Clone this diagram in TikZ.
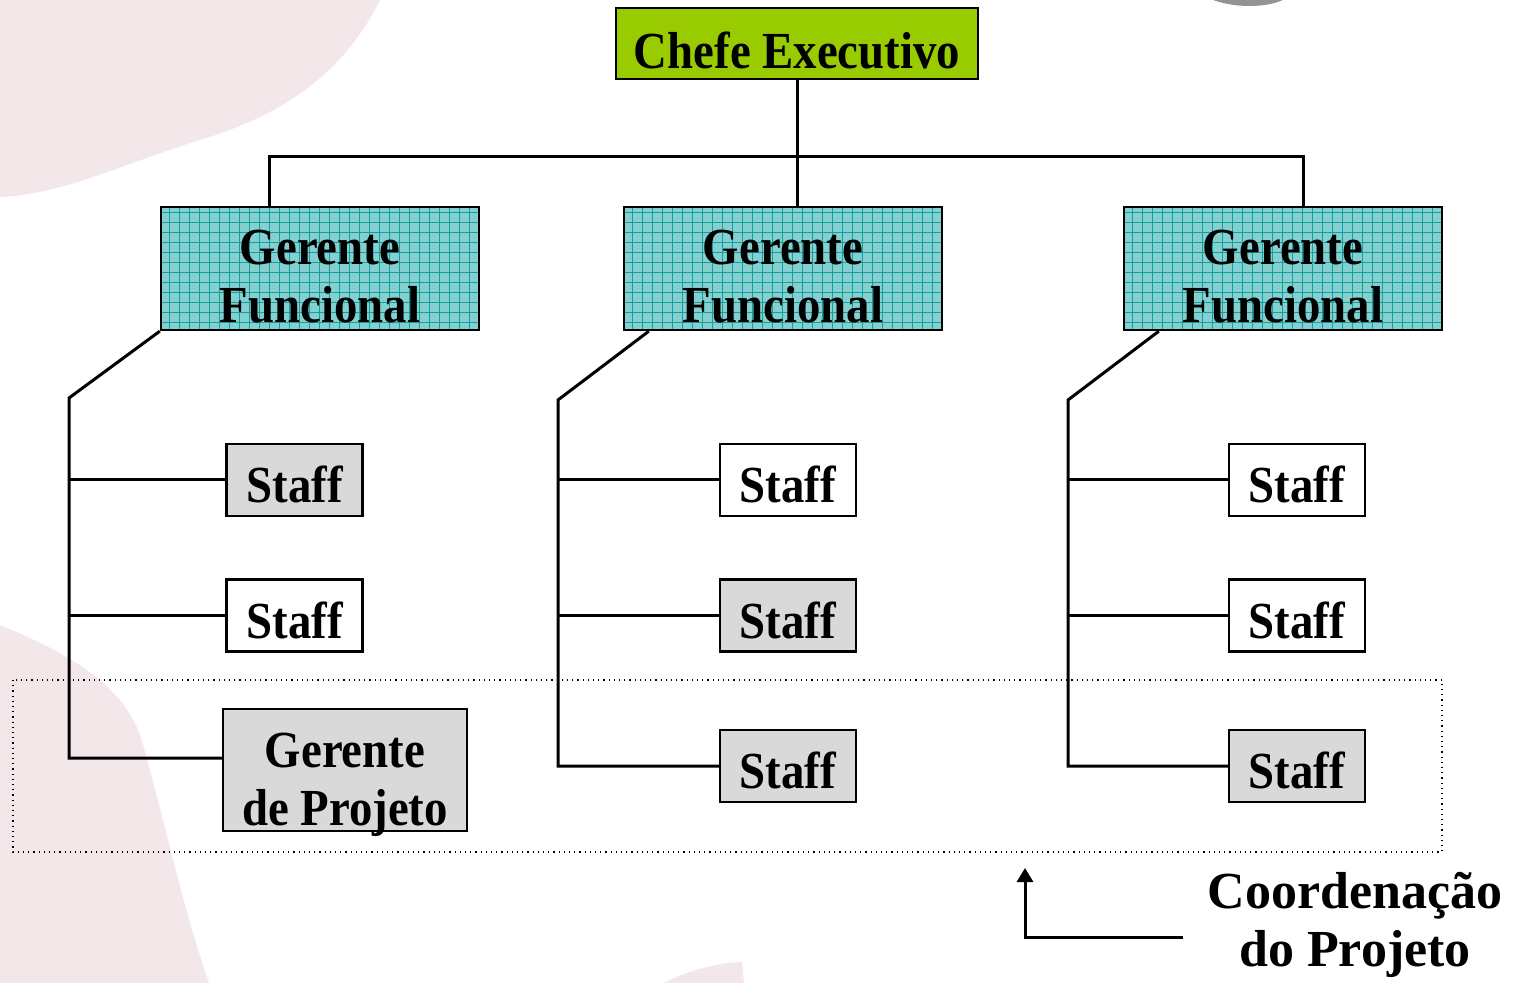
\documentclass[tikz,border=0pt]{standalone}
\usepackage{fontspec}
\setmainfont{Liberation Serif}
\newfontfamily\boxfont{Liberation Serif}[FakeStretch=0.9]
\usetikzlibrary{arrows.meta, calc}

\definecolor{chefegreen}{RGB}{153,204,0}
\definecolor{gerteal}{RGB}{132,208,208}
\definecolor{gridteal}{RGB}{20,158,158}
\definecolor{staffgray}{RGB}{217,217,217}
\definecolor{bgpink}{RGB}{243,231,234}

\begin{document}
\begin{tikzpicture}[x=0.5pt, y=-0.5pt, line width=1.4pt,
    box/.style={draw, line width=1.2pt, inner sep=0pt, align=center,
      font=\boxfont\fontsize{26}{29}\selectfont\bfseries},
    textdrop/.style={execute at begin node={\rule{0pt}{#1}}},
    chefebox/.style={box, textdrop=25pt, fill=chefegreen, minimum width=181pt, minimum height=35.5pt},
    gerbox/.style={box, textdrop=54pt, fill=gerteal, minimum width=159pt, minimum height=61.5pt,
      path picture={\draw[gridteal, line width=0.4pt, step=5pt]
        (path picture bounding box.south west) grid (path picture bounding box.north east);}},
    staffbox/.style={box, textdrop=23pt, fill=white, minimum width=68pt, minimum height=36pt},
    grayfill/.style={fill=staffgray},
    conn/.style={line width=1.5pt}]
    \useasboundingbox (0,0) rectangle (1515,983);
    \fill[white] (0,0) rectangle (1515,983);

    % background shapes
    \fill[bgpink] (0,0) -- (380,0) .. controls (350,60) and (300,110) .. (200,140)
        .. controls (120,165) and (60,195) .. (0,197) -- cycle;
    \fill[bgpink] (0,625) .. controls (60,650) and (120,680) .. (140,735)
        .. controls (160,800) and (180,900) .. (209,983) -- (0,983) -- cycle;
    \fill[bgpink] (663,983) .. controls (690,970) and (720,962) .. (742,962) -- (744,983) -- cycle;
    \fill[gray!85] (1213,0) .. controls (1235,8) and (1265,8) .. (1283,0) -- cycle;

    % boxes
    \node[chefebox] (chefe) at (797,43.5) {Chefe Executivo};
    \node[gerbox] (gerA) at (320,268.5) {Gerente\\Funcional};
    \node[gerbox] (gerB) at (783,268.5) {Gerente\\Funcional};
    \node[gerbox] (gerC) at (1283,268.5) {Gerente\\Funcional};

    \node[staffbox, grayfill] (stA1) at (294.5,480) {Staff};
    \node[staffbox] (stA2) at (294.5,615.5) {Staff};
    \node[box, textdrop=55pt, text depth=0pt, grayfill, minimum width=122pt, minimum height=61pt] (gerP) at (345,770) {Gerente\\de Projeto};

    \node[staffbox] (stB1) at (788,480) {Staff};
    \node[staffbox, grayfill] (stB2) at (788,615.5) {Staff};
    \node[staffbox, grayfill] (stB3) at (788,766) {Staff};

    \node[staffbox] (stC1) at (1297,480) {Staff};
    \node[staffbox] (stC2) at (1297,615.5) {Staff};
    \node[staffbox, grayfill] (stC3) at (1297,766) {Staff};

    % top connectors
    \draw[conn] (chefe) -- (chefe |- gerB.north);
    \draw[conn] ([xshift=-25.5pt]gerA.north) -- ++(0,-49) -| ([xshift=10pt]gerC.north);

    % left column
    \coordinate (tA) at (69,398);
    \coordinate (pA) at ([yshift=6pt]gerP.west);
    \draw[conn] (gerA.south west) -- (tA) -- (tA |- pA) -- (pA);
    \foreach \s in {stA1,stA2}
        \draw[conn] (tA |- \s.west) -- (\s.west);

    % middle column
    \coordinate (tB) at (558,400);
    \draw[conn] ([xshift=13pt]gerB.south west) -- (tB) -- (tB |- stB3.west) -- (stB3.west);
    \foreach \s in {stB1,stB2}
        \draw[conn] (tB |- \s.west) -- (\s.west);

    % right column
    \coordinate (tC) at (1068,400);
    \draw[conn] ([xshift=18pt]gerC.south west) -- (tC) -- (tC |- stC3.west) -- (stC3.west);
    \foreach \s in {stC1,stC2}
        \draw[conn] (tC |- \s.west) -- (\s.west);

    % project coordination
    \draw[dotted, line width=0.6pt] (13,680) rectangle (1442,852);
    \node[font=\fontsize{26}{29}\selectfont\bfseries, align=center] (coordlbl) at (1355,925) {Coordenação\\do Projeto};
    \coordinate (arrtail) at (1183,937);
    \coordinate (arrtip) at (1025,868);
    \draw[conn, -{Triangle[length=7pt, width=8pt]}] (arrtail) -| (arrtip);
\end{tikzpicture}
\end{document}
